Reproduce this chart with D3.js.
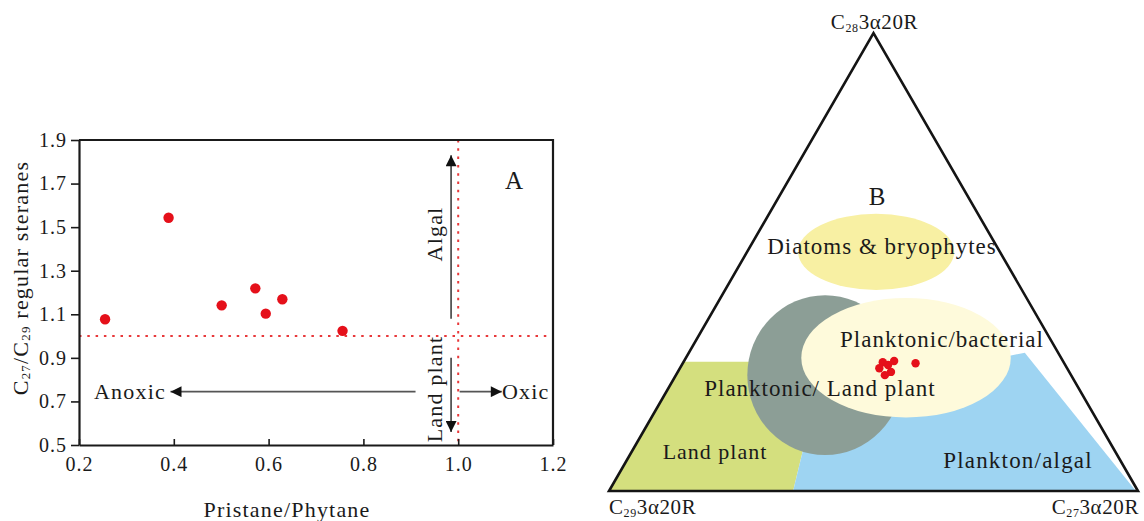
<!DOCTYPE html>
<html>
<head>
<meta charset="utf-8">
<script src="https://cdn.jsdelivr.net/npm/d3@7"></script>
<style>
  html, body { margin: 0; padding: 0; background: #ffffff; }
  svg { display: block; }
  text { font-family: "Liberation Serif", "Times New Roman", serif; fill: #1a1a1a; }
</style>
</head>
<body>
<svg id="chart" width="1144" height="521"></svg>
<script>
// ---- Panel A: Pr/Ph vs C27/C29 regular steranes ----
const prPh      = [0.255, 0.389, 0.501, 0.572, 0.594, 0.629, 0.756];
const c27c29    = [1.077, 1.543, 1.141, 1.219, 1.103, 1.169, 1.024];
const xTicks    = [0.2, 0.4, 0.6, 0.8, 1.0, 1.2];
const yTicks    = [0.5, 0.7, 0.9, 1.1, 1.3, 1.5, 1.7, 1.9];
const refPrPh   = 1.0;   // oxic / anoxic boundary
const refRatio  = 1.0;   // algal / land plant boundary

// ---- Panel B: C27-C28-C29 regular sterane ternary (%) ----
const sterC27 = [37.7, 39.7, 37.7, 39.0, 40.3, 39.5, 44.0];
const sterC28 = [28.1, 28.4, 26.8, 27.5, 26.0, 25.3, 27.9];
const sterC29 = [34.2, 31.9, 35.5, 33.5, 33.7, 35.2, 28.1];

const svg = d3.select("#chart");

// ================= Panel A =================
const A = { left: 79, right: 553, top: 140, bottom: 445 };
const x = d3.scaleLinear().domain([0.2, 1.2]).range([A.left, A.right]);
const y = d3.scaleLinear().domain([0.5, 1.9]).range([A.bottom, A.top]);
const fmt = d3.format(".1f");

const defs = svg.append("defs");
defs.append("marker")
  .attr("id", "head")
  .attr("viewBox", "0 0 10 10")
  .attr("refX", 10).attr("refY", 5)
  .attr("markerUnits", "userSpaceOnUse")
  .attr("markerWidth", 12).attr("markerHeight", 11)
  .attr("orient", "auto")
  .append("path").attr("d", "M0,0 L10,5 L0,10 Z").attr("fill", "#111");

const gA = svg.append("g");

// reference lines
gA.append("line")
  .attr("x1", x(refPrPh)).attr("x2", x(refPrPh))
  .attr("y1", A.top).attr("y2", A.bottom)
  .attr("stroke", "#e8383a").attr("stroke-width", 2)
  .attr("stroke-dasharray", "2.5,5.8");
gA.append("line")
  .attr("x1", A.left).attr("x2", A.right)
  .attr("y1", y(refRatio)).attr("y2", y(refRatio))
  .attr("stroke", "#e8383a").attr("stroke-width", 2)
  .attr("stroke-dasharray", "2.5,5.8");

// axes
const xAxis = d3.axisBottom(x).tickValues(xTicks).tickFormat(fmt).tickSizeInner(-6).tickSizeOuter(0).tickPadding(12);
const yAxis = d3.axisLeft(y).tickValues(yTicks).tickFormat(fmt).tickSizeInner(8).tickSizeOuter(0).tickPadding(4);

const gx = gA.append("g").attr("transform", `translate(0,${A.bottom})`).call(xAxis);
const gy = gA.append("g").attr("transform", `translate(${A.left},0)`).call(yAxis);
[gx, gy].forEach(g => {
  g.attr("font-family", null);
  g.select(".domain").attr("stroke", "#1a1a1a").attr("stroke-width", 2.2);
  g.selectAll(".tick line").attr("stroke", "#1a1a1a").attr("stroke-width", 1.6);
  g.selectAll(".tick text")
    .attr("font-size", 20).attr("letter-spacing", 1).attr("fill", "#222");
});

// top and right frame
gA.append("path")
  .attr("d", `M${A.left},${A.top} H${A.right} V${A.bottom}`)
  .attr("fill", "none").attr("stroke", "#1a1a1a").attr("stroke-width", 2.2);

// samples
gA.selectAll("circle.s")
  .data(prPh.map((d, i) => [d, c27c29[i]]))
  .join("circle").attr("class", "s")
  .attr("cx", d => x(d[0])).attr("cy", d => y(d[1]))
  .attr("r", 5.2).attr("fill", "#e5101a");

// interpretive arrows
const arrowX = x(0.985);
gA.append("line")
  .attr("x1", arrowX).attr("x2", arrowX)
  .attr("y1", y(1.08)).attr("y2", y(1.83))
  .attr("stroke", "#555").attr("stroke-width", 1.8).attr("marker-end", "url(#head)");
gA.append("line")
  .attr("x1", arrowX).attr("x2", arrowX)
  .attr("y1", y(0.90)).attr("y2", y(0.56))
  .attr("stroke", "#555").attr("stroke-width", 1.8).attr("marker-end", "url(#head)");
const arrowY = y(0.745);
gA.append("line")
  .attr("x1", x(0.91)).attr("x2", x(0.393))
  .attr("y1", arrowY).attr("y2", arrowY)
  .attr("stroke", "#555").attr("stroke-width", 1.8).attr("marker-end", "url(#head)");
gA.append("line")
  .attr("x1", x(1.003)).attr("x2", x(1.092))
  .attr("y1", arrowY).attr("y2", arrowY)
  .attr("stroke", "#555").attr("stroke-width", 1.8).attr("marker-end", "url(#head)");

function addText(g, str, px, py, opts = {}) {
  const t = g.append("text").attr("x", px).attr("y", py)
    .attr("font-size", opts.size || 22)
    .attr("letter-spacing", opts.ls == null ? 1.2 : opts.ls)
    .attr("text-anchor", opts.anchor || "middle")
    .attr("dominant-baseline", "central")
    .text(str);
  if (opts.rotate) t.attr("transform", `rotate(${opts.rotate},${px},${py})`);
  return t;
}

addText(gA, "Algal", 434, 234, { rotate: -90 });
addText(gA, "Land plant", 434, 389, { rotate: -90 });
addText(gA, "Anoxic", 166, arrowY, { anchor: "end" });
addText(gA, "Oxic", 502, arrowY, { anchor: "start" });
addText(gA, "A", 514, 180, { size: 25, ls: 0 });

// axis titles
addText(gA, "Pristane/Phytane", 287, 509);
const yt = gA.append("text")
  .attr("transform", "translate(20,278) rotate(-90)")
  .attr("text-anchor", "middle").attr("dominant-baseline", "central")
  .attr("font-size", 22).attr("letter-spacing", 1.2);
yt.append("tspan").text("C");
yt.append("tspan").attr("font-size", 13).attr("dy", 5).text("27");
yt.append("tspan").attr("dy", -5).text("/C");
yt.append("tspan").attr("font-size", 13).attr("dy", 5).text("29");
yt.append("tspan").attr("dy", -5).text(" regular steranes");

// ================= Panel B =================
// Ternary frame: C29 lower-left, C27 lower-right, C28 apex.
const tx = d3.scaleLinear().domain([0, 1]).range([609, 1138]);
const ty = d3.scaleLinear().domain([0, 1]).range([491, 33]);
const side = tx(1) - tx(0);
function tern(c27, c28, c29) {
  const s = c27 + c28 + c29;
  const a = c27 / s, b = c28 / s;
  return [tx(a + b / 2), ty(b)];
}

const gB = svg.append("g");
const line = d3.line();

// source-field polygons (fractions C27, C28, C29)
const landPlantField = [[0, 0.282, 0.718], [0.220, 0.282, 0.498], [0.322, 0.0895, 0.5885], [0.348, 0, 0.652], [0, 0, 1]];
const planktonField  = [[0.348, 0, 0.652], [0.322, 0.0895, 0.5885], [0.356, 0.199, 0.445], [0.512, 0.264, 0.224],
                        [0.602, 0.293, 0.105], [0.635, 0.302, 0.063], [0.996, 0, 0.004]];

gB.append("path").attr("d", line(landPlantField.map(d => tern(...d))) + "Z").attr("fill", "#d4df7e");
gB.append("path").attr("d", line(planktonField.map(d => tern(...d))) + "Z").attr("fill", "#9ed4f2");

// elliptical fields: centre in fractions, radii as fraction of side length
const ellipseFields = [
  { c: [0.282, 0.253, 0.465], rx: 0.147, ry: 0.151, fill: "#8c9e96" },
  { c: [0.416, 0.291, 0.293], rx: 0.198, ry: 0.113, fill: "#fefadb" },
  { c: [0.244, 0.522, 0.234], rx: 0.1475, ry: 0.072, fill: "#f8f0a3" }
];
ellipseFields.forEach(e => {
  const [cx, cy] = tern(...e.c);
  gB.append("ellipse").attr("cx", cx).attr("cy", cy)
    .attr("rx", e.rx * side).attr("ry", e.ry * side).attr("fill", e.fill);
});

// triangle outline
gB.append("path")
  .attr("d", line([tern(0, 0, 1), tern(1, 0, 0), tern(0, 1, 0)]) + "Z")
  .attr("fill", "none").attr("stroke", "#141414").attr("stroke-width", 2.6)
  .attr("stroke-linejoin", "miter");

// field labels
addText(gB, "Diatoms & bryophytes", 882, 246, { ls: 1, size: 23 });
addText(gB, "Planktonic/bacterial", 942, 339, { ls: 1, size: 23 });
addText(gB, "Planktonic/ Land plant", 820, 388, { ls: 1, size: 23 });
addText(gB, "Land plant", 715, 451, { ls: 1 });
addText(gB, "Plankton/algal", 1018, 460, { ls: 1.2, size: 23 });
addText(gB, "B", 877, 196, { size: 25, ls: 0 });

// samples
gB.selectAll("circle.t")
  .data(sterC27.map((d, i) => [d, sterC28[i], sterC29[i]]))
  .join("circle").attr("class", "t")
  .attr("cx", d => tern(...d)[0]).attr("cy", d => tern(...d)[1])
  .attr("r", 4.2).attr("fill", "#e5101a");

// vertex labels
function vertexLabel(num, px, py, anchor) {
  const t = gB.append("text").attr("x", px).attr("y", py)
    .attr("text-anchor", anchor).attr("font-size", 21).attr("letter-spacing", 0.6);
  t.append("tspan").text("C");
  t.append("tspan").attr("font-size", 12).attr("dy", 3).text(num);
  t.append("tspan").attr("dy", -3).text("3α20R");
}
vertexLabel("28", tern(0, 1, 0)[0] + 1, 29, "middle");
vertexLabel("29", tern(0, 0, 1)[0], 514, "start");
vertexLabel("27", tern(1, 0, 0)[0] + 1, 514, "end");
</script>
</body>
</html>
